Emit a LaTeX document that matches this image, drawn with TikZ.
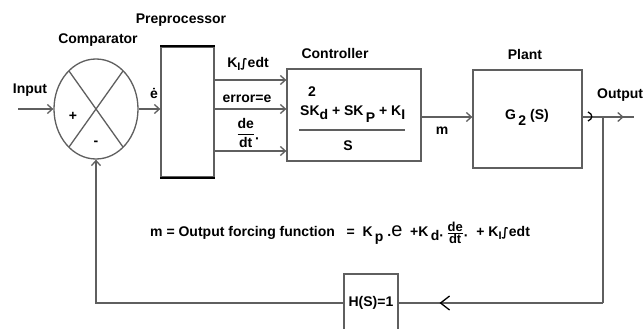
\documentclass[tikz,border=0pt]{standalone}
\usepackage{fontspec}
\setmainfont{Liberation Sans}
\newfontfamily\djvfont{DejaVu Sans}
\usetikzlibrary{arrows.meta,shapes.geometric,decorations.markings,calc}
\definecolor{linegray}{RGB}{95,95,95}
\newcommand{\fs}[1]{\fontsize{#1}{#1}\selectfont}
\begin{document}
\begin{tikzpicture}[x=1pt,y=-1pt, font=\fs{14}\bfseries,
  line/.style={draw=linegray, line width=1.3pt},
  arr/.style={line, -{Straight Barb[length=5pt,width=9pt]}},
  blk/.style={draw=linegray, line width=1.3pt, rectangle, inner sep=0pt},
  lbl/.style={inner sep=0pt},
  midarrow/.style={postaction={decorate}, decoration={markings,
     mark=at position #1 with {\arrow[black,line width=1.3pt]{Straight Barb[length=9pt,width=14pt]}}}},
  smallarrow/.style={postaction={decorate}, decoration={markings,
     mark=at position #1 with {\arrow[linegray,line width=1.3pt]{Straight Barb[length=5pt,width=9pt]}}}},
]
\useasboundingbox (0,0) rectangle (643,329);
\fill[white] (0,0) rectangle (643,329);

% comparator
\node[ellipse, draw=linegray, line width=1.3pt, minimum width=84pt, minimum height=100pt, inner sep=0pt] (cmp) at (96,109) {};
\draw[line] ($(cmp.center)+(-27,-38)$) -- ($(cmp.center)+(27,38)$);
\draw[line] ($(cmp.center)+(27,-38)$) -- ($(cmp.center)+(-27,38)$);
\node[lbl] (plus) at (73,116) {+};
\node[lbl] (minus) at (96,143) {-};
\node[lbl] (cmplbl) at (98,40) {Comparator};
\node[lbl] (inlbl) at (30,90) {Input};
\coordinate (in) at (18,109);
\draw[arr] (in) -- (cmp.west);

% preprocessor
\node[blk, minimum width=53pt, minimum height=130pt] (pre) at (187.5,112) {};
\draw[black, line width=2pt] (pre.north west) -- (pre.north east);
\draw[black, line width=2pt] (pre.south west) -- (pre.south east);
\node[lbl] (prelbl) at (181,20) {Preprocessor};
\node[lbl] (edot) at (154,93) {ė};
\draw[arr] (cmp.east) -- (cmp.east -| pre.west);

% controller
\node[blk, minimum width=134pt, minimum height=92pt] (ctrl) at (354,115) {};
\node[lbl] (ctrllbl) at (335,53) {Controller};
\coordinate (p1) at ([yshift=32pt]pre.east);
\coordinate (p2) at ([yshift=3pt]pre.east);
\coordinate (p3) at ([yshift=-39pt]pre.east);
\draw[arr] (p1) -- (p1 -| ctrl.west);
\draw[arr] (p2) -- (p2 -| ctrl.west);
\draw[arr] (p3) -- (p3 -| ctrl.west);
\node[lbl] (kint) at (248,64) {K\raisebox{-3pt}{\fs{11}I}{\djvfont\fs{12}∫}edt};
\node[lbl] (err) at (247,99) {error=e};
\node[lbl] (dedt) at (248,133) {$\displaystyle\frac{\hbox{de}}{\hbox{dt}}$\raisebox{-6pt}{·}};

\node[lbl, anchor=base west] (num) at (300,115) {SK\raisebox{-4pt}{d} + SK\,\raisebox{-7pt}{P} + K\raisebox{-5pt}{I}};
\node[lbl] (two) at (312,92) {2};
\draw[line] ($(ctrl.west)+(13,15)$) -- ($(ctrl.east)+(-17,15)$);
\node[lbl] (den) at (348,146) {S};

% plant
\node[blk, minimum width=109pt, minimum height=98pt] (plant) at (527.5,119) {};
\node[lbl] (plantlbl) at (525,54) {Plant};
\node[lbl] (g2) at (527,117) {G\,\raisebox{-6pt}{2} (S)};
\draw[arr] ([yshift=-2pt]ctrl.east) -- ([yshift=2pt]plant.west);
\node[lbl] (mlbl) at (442,131) {m};

% output
\coordinate (outend) at (634,117);
\draw[line, smallarrow=0.8] ([yshift=2pt]plant.east) -- (outend);
\draw[black, line width=1.3pt] (588,112) .. controls (593,114) and (593,119) .. (588,121);
\node[lbl, anchor=west] (outlbl) at (597,95) {Output};

% feedback
\coordinate (br) at (603,117);
\coordinate (brc) at (603,303);
\node[blk, minimum width=54pt, minimum height=58pt, fill=white] (H) at (371,303) {H(S)=1};
\draw[line] (br) -- (brc);
\draw[line, midarrow=0.8] (brc) -- (H.east);
\draw[arr] (H.west) -| (cmp.south);

% formula
\node[lbl, anchor=west] (formula) at (150,233) {m = Output forcing function\ \ \ =\ \ K\,\raisebox{-5pt}{p}\;.{\mdseries\fs{20}e}\; +K\,\raisebox{-4pt}{d·}\,{\fs{13}$\frac{\hbox{de}}{\hbox{dt}}$}\raisebox{-4pt}{·}\; + K\raisebox{-3pt}{\fs{11}I}{\djvfont\fs{12}∫}edt};
\end{tikzpicture}
\end{document}
